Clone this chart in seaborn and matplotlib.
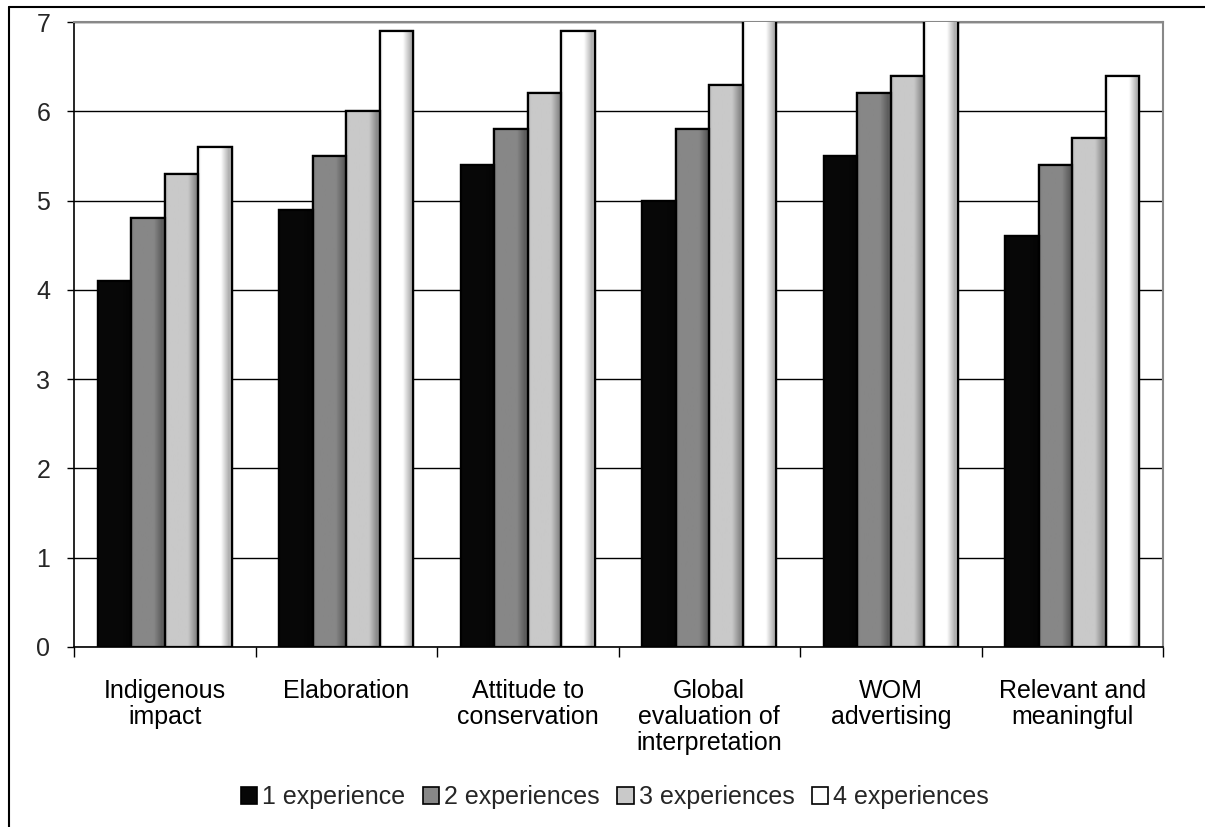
import numpy as np
import pandas as pd
import matplotlib
matplotlib.use("Agg")
import matplotlib.pyplot as plt
import seaborn as sns
from matplotlib.patches import Rectangle
from matplotlib.lines import Line2D

categories = ["Indigenous\nimpact", "Elaboration", "Attitude to\nconservation",
              "Global\nevaluation of\ninterpretation", "WOM\nadvertising",
              "Relevant and\nmeaningful"]
series = ["1 experience", "2 experiences", "3 experiences", "4 experiences"]
exp1 = [4.1, 4.9, 5.4, 5.0, 5.5, 4.6]
exp2 = [4.8, 5.5, 5.8, 5.8, 6.2, 5.4]
exp3 = [5.3, 6.0, 6.2, 6.3, 6.4, 5.7]
exp4 = [5.6, 6.9, 6.9, 7.1, 7.1, 6.4]
y_ticks = [0, 1, 2, 3, 4, 5, 6, 7]
colors = ["#070707", "#878787", "#c9c9c9", "#ffffff"]

rows = []
for s, vals in zip(series, [exp1, exp2, exp3, exp4]):
    for c, v in zip(categories, vals):
        rows.append({"category": c, "series": s, "value": v})
df = pd.DataFrame(rows)

sns.set_theme(style="white")
plt.rcParams["font.family"] = ["Liberation Sans", "DejaVu Sans"]

fig = plt.figure(figsize=(12.05, 8.27), dpi=100)
ax = fig.add_axes([74 / 1205, 1 - 647 / 827, (1163 - 74) / 1205, (647 - 22) / 827])

sns.barplot(data=df, x="category", y="value", hue="series", order=categories,
            hue_order=series, palette=colors, saturation=1, width=0.74, gap=0,
            edgecolor="black", linewidth=1.6, legend=False, ax=ax, zorder=3)

# gradient shading on each bar
N = 64
t = np.linspace(0, 1, N)
prof = np.ones(N)
prof = np.where(t < 0.08, 0.88 + 0.12 * t / 0.08, prof)
right = (t > 0.68)
prof = np.where(right, 1 - 0.32 * np.clip((t - 0.68) / 0.24, 0, 1), prof)
prof = np.where(t > 0.92, 0.68 + 0.1 * (t - 0.92) / 0.08, prof)
bars = list(ax.patches)
for p in bars:
    x0, w, h = p.get_x(), p.get_width(), p.get_height()
    base = np.array(p.get_facecolor()[:3])
    base = np.maximum(base, 0.03)
    img = np.clip(base[None, None, :] * prof[None, :, None], 0, 1)
    ax.imshow(img, extent=(x0, x0 + w, 0, h), aspect="auto", zorder=3.1,
              interpolation="bilinear")
    ax.add_patch(Rectangle((x0, 0), w, h, fill=False, edgecolor="black",
                           linewidth=1.6, zorder=3.2))

ax.set_xlim(-0.5, len(categories) - 0.5)
ax.set_ylim(0, 7)
ax.set_yticks(y_ticks)
ax.set_yticklabels([str(v) for v in y_ticks], fontsize=18)
ax.set_xticks(range(len(categories)))
ax.set_xticklabels(categories, fontsize=18, linespacing=1.1)
ax.set_xticks(np.arange(-0.5, len(categories), 1), minor=True)
ax.tick_params(axis="x", which="major", length=0, pad=23, colors="black")
ax.tick_params(axis="x", which="minor", length=7, width=1, color="black", bottom=True)
ax.tick_params(axis="y", which="major", length=5, width=1, color="black", pad=12, left=True)
ax.set_xlabel("")
ax.set_ylabel("")
ax.set_axisbelow(True)
ax.yaxis.grid(True, color="black", linewidth=1)
ax.xaxis.grid(False)
for side in ["left", "bottom"]:
    ax.spines[side].set_color("black")
    ax.spines[side].set_linewidth(1.2)
for side in ["top", "right"]:
    ax.spines[side].set_color("#888888")
    ax.spines[side].set_linewidth(1.5)

handles = [Rectangle((0, 0), 1, 1, facecolor=c, edgecolor="black", linewidth=1.2)
           for c in colors]
fig.legend(handles, series, loc="center", bbox_to_anchor=(615 / 1205, 1 - 797 / 827),
           ncol=4, frameon=False, fontsize=18, handlelength=0.65, handleheight=0.65,
           handletextpad=0.2, columnspacing=0.7, borderaxespad=0)

fig.add_artist(Line2D([8.5 / 1205, 1], [1 - 6.5 / 827] * 2, color="black", lw=1.5,
                      transform=fig.transFigure))
fig.add_artist(Line2D([8.5 / 1205] * 2, [0, 1 - 6.5 / 827], color="black", lw=1.5,
                      transform=fig.transFigure))

fig.savefig("out.png", dpi=100)
